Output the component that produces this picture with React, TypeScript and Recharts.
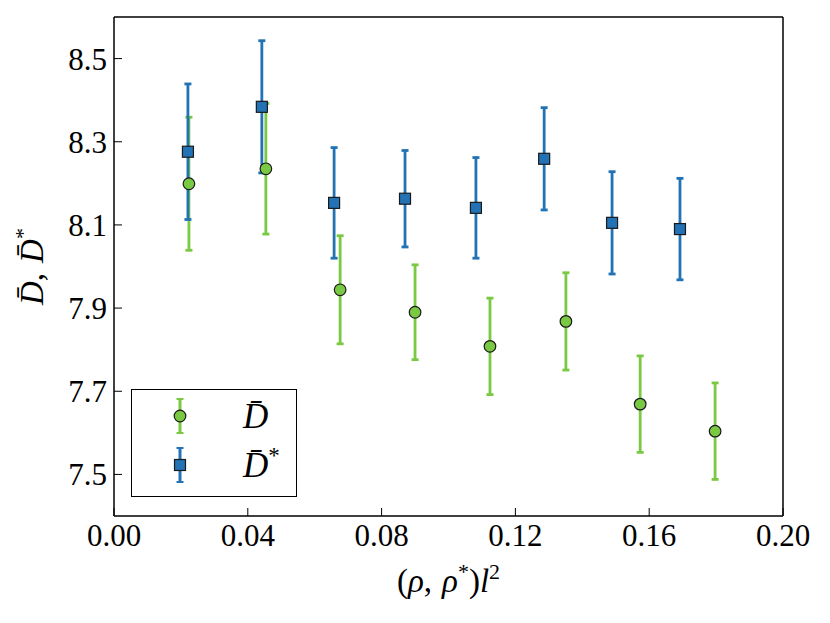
import React from 'react';
import { ErrorBar, Scatter, ScatterChart, XAxis, YAxis } from 'recharts';

// D-bar series
const rhoBar = [0.0224, 0.0454, 0.0676, 0.09, 0.1124, 0.1351, 0.1573, 0.1797];
const dBar = [8.199, 8.235, 7.944, 7.89, 7.808, 7.868, 7.669, 7.604];
const dBarErr = [0.16, 0.157, 0.13, 0.114, 0.116, 0.117, 0.116, 0.116];

// D-bar-star series
const rhoStar = [0.0221, 0.0442, 0.0658, 0.087, 0.1082, 0.1286, 0.1489, 0.1692];
const dStar = [8.276, 8.384, 8.153, 8.163, 8.141, 8.259, 8.105, 8.09];
const dStarErr = [0.163, 0.159, 0.133, 0.116, 0.121, 0.123, 0.123, 0.122];

const xTicks = [0, 0.04, 0.08, 0.12, 0.16, 0.2];
const yTicks = [7.5, 7.7, 7.9, 8.1, 8.3, 8.5];

const GREEN = '#7ac943';
const BLUE = '#2272b5';
const EDGE = '#1a1a1a';
const FONT = '"Liberation Serif", "DejaVu Serif", serif';

const barData = rhoBar.map((x, i) => ({ x, y: dBar[i], err: dBarErr[i] }));
const starData = rhoStar.map((x, i) => ({ x, y: dStar[i], err: dStarErr[i] }));

const series = [
  { key: 'bar', name: 'D\u0304', star: false, color: GREEN, shape: 'circle', data: barData },
  { key: 'star', name: 'D\u0304', star: true, color: BLUE, shape: 'square', data: starData },
];

const tickStyle = { fill: '#000', fontSize: 31, fontFamily: FONT };

function Marker({ cx, cy, shape, color }: any) {
  if (shape === 'square') {
    return <rect x={cx - 5.5} y={cy - 5.5} width={11} height={11} fill={color} stroke={EDGE} strokeWidth={1.2} />;
  }
  return <circle cx={cx} cy={cy} r={5.8} fill={color} stroke={EDGE} strokeWidth={1.2} />;
}

function XTitle({ viewBox }: any) {
  const cx = viewBox.x + viewBox.width / 2;
  return (
    <text x={cx} y={viewBox.y + 76} textAnchor="middle" fontFamily={FONT} fontSize={33} fill="#000">
      <tspan>(</tspan>
      <tspan fontStyle="italic">ρ</tspan>
      <tspan>,</tspan>
      <tspan fontStyle="italic" dx={10}>ρ</tspan>
      <tspan fontSize={22} dy={-13}>*</tspan>
      <tspan dy={13}>)</tspan>
      <tspan fontStyle="italic">l</tspan>
      <tspan fontSize={22} dy={-13}>2</tspan>
    </text>
  );
}

function YTitle({ viewBox }: any) {
  const x = 35;
  const y = viewBox.y + viewBox.height / 2;
  return (
    <text x={x} y={y} transform={`rotate(-90 ${x} ${y})`} textAnchor="middle" fontFamily={FONT} fontSize={33} fill="#000">
      <tspan fontStyle="italic">D&#772;</tspan>
      <tspan>,</tspan>
      <tspan fontStyle="italic" dx={10}>D&#772;</tspan>
      <tspan fontSize={22} dy={-13}>*</tspan>
    </text>
  );
}

function LegendBox() {
  return (
    <div
      style={{
        position: 'absolute',
        left: 123,
        top: 381,
        width: 164,
        height: 106,
        border: '1.5px solid #000',
        background: '#fff',
      }}
    >
      <svg width={164} height={106} style={{ position: 'absolute', left: 0, top: 0 }}>
        {series.map((s, i) => {
          const cy = 26 + i * 49;
          return (
            <g key={s.key}>
              <line x1={48} x2={48} y1={cy - 17} y2={cy + 17} stroke={s.color} strokeWidth={3} />
              <line x1={44.5} x2={51.5} y1={cy - 17} y2={cy - 17} stroke={s.color} strokeWidth={2} />
              <line x1={44.5} x2={51.5} y1={cy + 17} y2={cy + 17} stroke={s.color} strokeWidth={2} />
              <Marker cx={48} cy={cy} shape={s.shape} color={s.color} />
              <text x={111} y={cy + 12} fontFamily={FONT} fontSize={35} fill="#000">
                <tspan fontStyle="italic">{s.name}</tspan>
                {s.star && (
                  <tspan fontSize={23} dy={-14}>
                    *
                  </tspan>
                )}
              </text>
            </g>
          );
        })}
      </svg>
    </div>
  );
}

export default function App() {
  return (
    <div style={{ position: 'relative', width: 814, height: 607, fontFamily: FONT }}>
      <ScatterChart width={814} height={607} margin={{ top: 8, right: 38, bottom: 0, left: 0 }}>
        <XAxis
          xAxisId={0}
          type="number"
          dataKey="x"
          domain={[0, 0.2]}
          ticks={xTicks}
          interval={0}
          tickFormatter={(v: number) => v.toFixed(2)}
          height={99}
          tickSize={-8}
          tickMargin={16}
          tick={tickStyle}
          axisLine={{ stroke: '#000', strokeWidth: 1.5 }}
          tickLine={{ stroke: '#000', strokeWidth: 1 }}
          label={{ content: XTitle }}
        />
        <XAxis
          xAxisId="top"
          orientation="top"
          type="number"
          domain={[0, 0.2]}
          ticks={xTicks}
          interval={0}
          height={1}
          tickSize={-8}
          tick={false}
          axisLine={{ stroke: '#000', strokeWidth: 1.5 }}
          tickLine={{ stroke: '#000', strokeWidth: 1 }}
        />
        <YAxis
          yAxisId={0}
          type="number"
          dataKey="y"
          domain={[7.4, 8.6]}
          ticks={yTicks}
          interval={0}
          tickFormatter={(v: number) => v.toFixed(1)}
          width={106}
          tickSize={-8}
          tickMargin={15}
          tick={tickStyle}
          axisLine={{ stroke: '#000', strokeWidth: 1.5 }}
          tickLine={{ stroke: '#000', strokeWidth: 1 }}
          label={{ content: YTitle }}
        />
        <YAxis
          yAxisId="right"
          orientation="right"
          type="number"
          domain={[7.4, 8.6]}
          ticks={yTicks}
          interval={0}
          width={1}
          tickSize={-8}
          tick={false}
          axisLine={{ stroke: '#000', strokeWidth: 1.5 }}
          tickLine={{ stroke: '#000', strokeWidth: 1 }}
        />
        {series.map((s) => (
          <Scatter
            key={s.key}
            name={s.name}
            data={s.data}
            xAxisId={0}
            yAxisId={0}
            isAnimationActive={false}
            shape={(p: any) => <Marker cx={p.cx} cy={p.cy} shape={s.shape} color={s.color} />}
          >
            <ErrorBar dataKey="err" direction="y" width={3.5} stroke={s.color} strokeWidth={2.8} isAnimationActive={false} />
          </Scatter>
        ))}
      </ScatterChart>
      <LegendBox />
    </div>
  );
}
